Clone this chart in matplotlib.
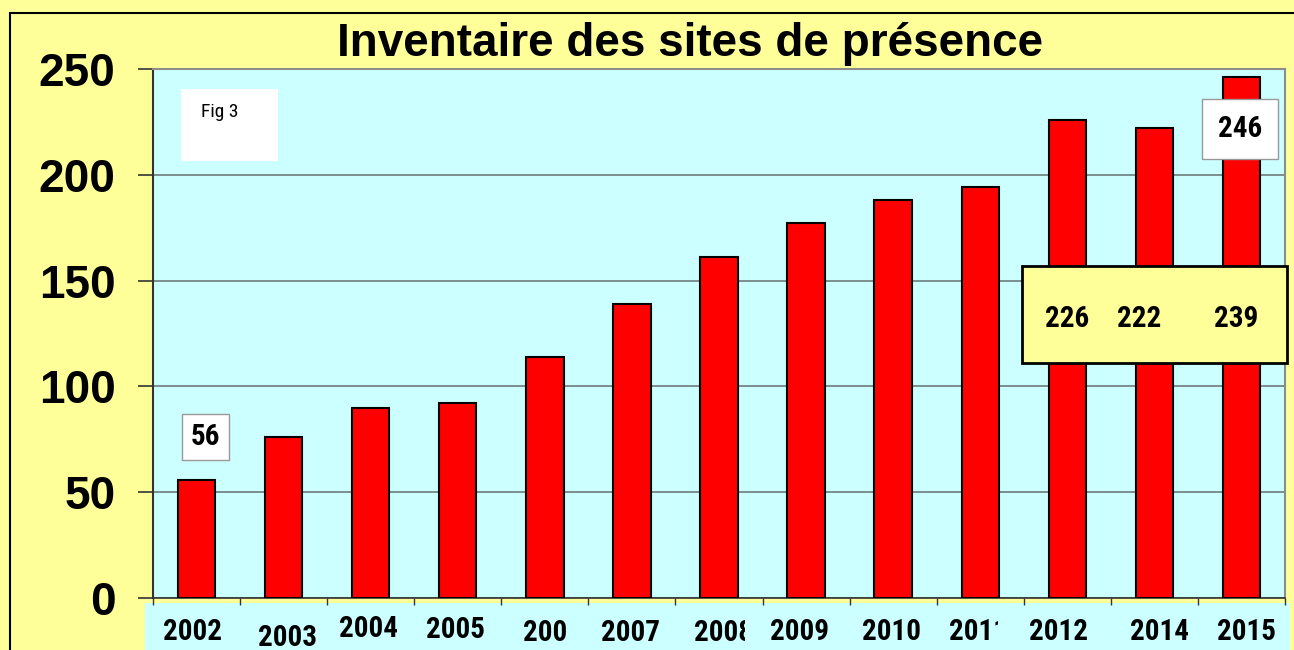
import matplotlib.pyplot as plt
from matplotlib.patches import Rectangle
from matplotlib import font_manager
from matplotlib.font_manager import FontProperties
from matplotlib.transforms import Bbox, TransformedBbox
import matplotlib.transforms as mtransforms

years = ["2002", "2003", "2004", "2005", "200", "2007", "2008", "2009",
         "2010", "2011", "2012", "2014", "2015"]
sites = [56, 76, 90, 92, 114, 139, 161, 177, 188, 194, 226, 222, 246]
box_values = [226, 222, 239]
yticks = [0, 50, 100, 150, 200, 250]


def find_font(keys, bold):
    for key in keys:
        for f in font_manager.fontManager.ttflist:
            fn = f.fname.replace("-", "").replace("_", "").lower()
            if key in fn and (("bold" in fn) == bold) and "oblique" not in fn and "italic" not in fn:
                return f.fname
    return None


keys = ["liberationsansnarrow", "robotocondensed", "dejavusanscondensed", "opensanscondensed"]
nb = find_font(keys, True)
nr = find_font(keys, False)
narrow_b = FontProperties(fname=nb, size=21) if nb else FontProperties(family="DejaVu Sans", weight="bold", size=19)
narrow_r = FontProperties(fname=nr, size=14) if nr else FontProperties(family="DejaVu Sans", size=12)

names = {f.name for f in font_manager.fontManager.ttflist}
wide = "Liberation Sans" if "Liberation Sans" in names else "DejaVu Sans"

YELLOW = "#FFFF99"
CYAN = "#CCFFFF"

fig = plt.figure(figsize=(12.94, 6.5), dpi=100, facecolor=YELLOW)
ax = fig.add_axes([153/1294, 1-598/650, 1132/1294, 529/650])
ax.set_facecolor(CYAN)

x = range(len(years))
ax.bar(x, sites, width=0.43, color="#FF0000", edgecolor="black", linewidth=1.5, zorder=3)

ax.set_xlim(-0.5, len(years) - 0.5)
ax.set_ylim(0, 250)
ax.set_yticks(yticks)
ax.set_yticklabels([str(v) for v in yticks], fontsize=33, fontweight="bold", family=wide)
ax.tick_params(axis="y", length=11, width=1.2, pad=16, color="#333333")
ax.yaxis.grid(True, color="#6E7B7B", linewidth=1.2, zorder=1)
ax.set_axisbelow(True)

# ticks between categories on the x axis
ax.set_xticks([i + 0.5 for i in range(-1, len(years))])
ax.set_xticklabels([])
ax.tick_params(axis="x", length=5, width=1, color="#333333", direction="out")

for side in ["top", "right"]:
    ax.spines[side].set_color("#8C8C8C")
    ax.spines[side].set_linewidth(1.5)
ax.spines["left"].set_color("#333333")
ax.spines["left"].set_linewidth(1.5)
ax.spines["bottom"].set_color("#333333")
ax.spines["bottom"].set_linewidth(1.2)

# cyan strip under the axis holding the year labels
strip = Rectangle((145/1294, 0), 1145/1294, 47/650, transform=fig.transFigure,
                  facecolor=CYAN, edgecolor="none", zorder=-1)
fig.patches.append(strip)

trans = mtransforms.blended_transform_factory(ax.transData, fig.transFigure)
y_off = [0, 6, -3, -2, 1, 1, 1, 0, 0, 0, 0, 0, 0]
x_off = [-0.05, 0.04, -0.02, -0.03, 0, -0.02, 0.05, -0.08, -0.02, -0.02, -0.1, 0.06, 0.06]
clip_right = {6: 745, 9: 998}
for i, lab in enumerate(years):
    t = ax.text(i + x_off[i], (650 - 632 - y_off[i]) / 650, lab, transform=trans,
                ha="center", va="center", fontproperties=narrow_b, clip_on=False, zorder=6)
    if i in clip_right:
        t.set_clip_box(TransformedBbox(Bbox([[0, 0], [clip_right[i] / 1294, 1]]), fig.transFigure))
        t.set_clip_on(True)

fig.text(690/1294, 1 - 44/650, "Inventaire des sites de présence", ha="center", va="center",
         fontsize=33, fontweight="bold", family=wide)

# Fig 3 box
ax.add_patch(Rectangle((0.0247, 0.826), 0.0857, 0.136, transform=ax.transAxes,
                       facecolor="white", edgecolor="none", zorder=4))
ax.text(0.042, 0.918, "Fig 3", transform=ax.transAxes, ha="left", va="center",
        fontproperties=narrow_r, zorder=5)

# first value label
ax.text(0.1, 76, str(sites[0]), ha="center", va="center", fontproperties=narrow_b, zorder=5,
        bbox=dict(boxstyle="square,pad=0.3", facecolor="white", edgecolor="#999999", linewidth=1))

# last value label
ax.text(len(years) - 1 - 0.02, 221.5, str(sites[-1]), ha="center", va="center",
        fontproperties=narrow_b, zorder=5,
        bbox=dict(boxstyle="square,pad=0.55", facecolor="white", edgecolor="#999999", linewidth=1))

# yellow box with values
ax.add_patch(Rectangle((9.48, 111), 3.04, 45.9, facecolor=YELLOW, edgecolor="black",
                       linewidth=2, zorder=4, clip_on=False))
for xv, v in zip([10.0, 10.83, 11.94], box_values):
    ax.text(xv, 132, str(v), ha="center", va="center", fontproperties=narrow_b, zorder=5)

# outer frame
fig.patches.append(Rectangle((10/1294, -0.1), 1.2, 1.1 - 13/650, transform=fig.transFigure,
                             facecolor="none", edgecolor="black", linewidth=1.5))

fig.savefig("out.png", dpi=100, facecolor=YELLOW)
